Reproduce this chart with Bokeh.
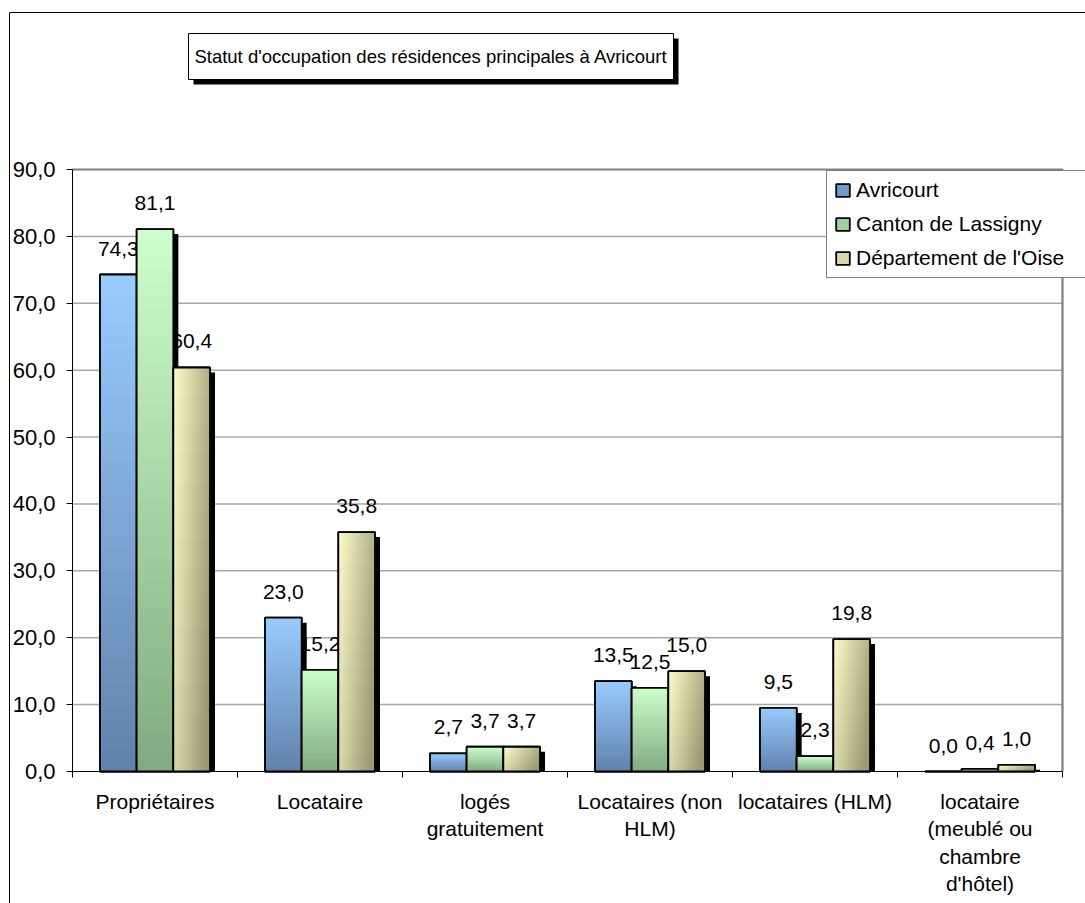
import numpy as np
from bokeh.plotting import figure
from bokeh.models import Range1d, FixedTicker, Legend, LegendItem, ColumnDataSource
from bokeh.core.properties import value
from bokeh.embed import file_html
from bokeh.resources import INLINE

# ---- data -------------------------------------------------------------
title_text = "Statut d'occupation des résidences principales à Avricourt"
categories = [
    "Propriétaires",
    "Locataire",
    "logés\ngratuitement",
    "Locataires (non\nHLM)",
    "locataires (HLM)",
    "locataire\n(meublé ou\nchambre\nd'hôtel)",
]
series_names = ["Avricourt", "Canton de Lassigny", "Département de l'Oise"]
avricourt = [74.3, 23.0, 2.7, 13.5, 9.5, 0.0]
canton_lassigny = [81.1, 15.2, 3.7, 12.5, 2.3, 0.4]
departement_oise = [60.4, 35.8, 3.7, 15.0, 19.8, 1.0]
y_ticks = [0, 10, 20, 30, 40, 50, 60, 70, 80, 90]

series_values = [avricourt, canton_lassigny, departement_oise]

# ---- layout -----------------------------------------------------------
FONT = "Liberation Sans"
W, H = 1085, 903
# plot area in canvas pixels
PA_LEFT, PA_RIGHT, PA_TOP, PA_BOTTOM = 72, 1062, 169, 771
N_CAT = len(categories)
Y_MAX = 90
ppx = (PA_RIGHT - PA_LEFT) / N_CAT          # pixels per category
ppy = (PA_BOTTOM - PA_TOP) / Y_MAX          # pixels per y unit
x_start, x_end = -PA_LEFT / ppx, N_CAT + (W - PA_RIGHT) / ppx
y_start, y_end = -(H - PA_BOTTOM) / ppy, Y_MAX + PA_TOP / ppy


def cx(px):
    """canvas x pixel -> x data coordinate"""
    return x_start + px / ppx


def cy(py):
    """canvas y pixel (from top) -> y data coordinate"""
    return y_end - py / ppy


# gradient end colours (light -> dark) and legend swatch colour per series
grad_top = [(153, 204, 255), (204, 255, 204), (255, 255, 204)]
grad_bot = [(96, 130, 170), (130, 170, 130), (156, 153, 116)]
swatch = ["#6f9bcc", "#9fd19f", "#d9d8a8"]

bar_w = 2.0 / 9.0                      # three bars fill 2/3 of a category
shadow_dx, shadow_dy = 5 / ppx, 5 / ppy


def mix(c0, c1, t):
    t = min(max(t, 0.0), 1.0)
    r, g, b = (int(round(a + (b_ - a) * t)) for a, b_ in zip(c0, c1))
    return "#%02x%02x%02x" % (r, g, b)


p = figure(width=W, height=H, output_backend="svg", toolbar_location=None,
           x_range=Range1d(x_start, x_end), y_range=Range1d(y_start, y_end),
           min_border=0, background_fill_color="white", border_fill_color="white")
p.outline_line_color = None
p.xgrid.visible = False
p.ygrid.visible = False

# y axis, pinned to x = 0
ya = p.yaxis[0]
ya.fixed_location = 0
ya.bounds = (0, Y_MAX)
ya.ticker = FixedTicker(ticks=y_ticks)
ya.major_label_overrides = {v: f"{v:.1f}".replace(".", ",") for v in y_ticks}
ya.axis_line_color = "black"
ya.major_tick_line_color = "black"
ya.major_tick_in = 0
ya.major_tick_out = 6
ya.minor_tick_line_color = None
ya.major_label_standoff = 11
ya.major_label_text_font = FONT
ya.major_label_text_font_size = "22px"
ya.major_label_text_color = "black"

# x axis, pinned to y = 0: labels centred, tick marks on category boundaries
xa = p.xaxis[0]
centers = [i + 0.5 for i in range(N_CAT)]
xa.fixed_location = 0
xa.bounds = (0, N_CAT)
xa.ticker = FixedTicker(ticks=centers, minor_ticks=list(range(N_CAT + 1)))
xa.major_label_overrides = {c: lab for c, lab in zip(centers, categories)}
xa.axis_line_color = "black"
xa.major_tick_line_color = None
xa.major_tick_in = 0
xa.major_tick_out = 0
xa.minor_tick_line_color = "black"
xa.minor_tick_in = 0
xa.minor_tick_out = 6
xa.major_label_standoff = 12
xa.major_label_text_font = FONT
xa.major_label_text_font_size = "21px"
xa.major_label_text_color = "black"

# horizontal grid lines and the grey plot-area border (top and right)
grid_y = [v for v in y_ticks if 0 < v < Y_MAX]
p.segment(x0=[0] * len(grid_y), x1=[N_CAT] * len(grid_y), y0=grid_y, y1=grid_y,
          line_color="#a8a8a8", line_width=1.5)
p.line(x=[0, N_CAT, N_CAT], y=[Y_MAX, Y_MAX, 0], line_color="#808080",
       line_width=2.2)

# ---- value labels (drawn first, bar shadows may overlap them) -------------
lx, ly, lt = [], [], []
for j, vals in enumerate(series_values):
    for i, v in enumerate(vals):
        lx.append(i + 0.5 + (j - 1) * bar_w)
        ly.append(v)
        lt.append(f"{v:.1f}".replace(".", ","))
p.text(x="x", y="y", text="t", source=ColumnDataSource(dict(x=lx, y=ly, t=lt)),
       text_font=value(FONT), text_font_size="21px", text_color="black",
       text_align="center", text_baseline="alphabetic", y_offset=-26)

# ---- bars: shadow, gradient body, outline ---------------------------------
legend_items = []
N_V = 40          # strips for vertical gradients
N_G = 14          # grid cells for the diagonal gradient
for j, vals in enumerate(series_values):
    left = [i + 0.5 + (j - 1.5) * bar_w for i in range(len(vals))]
    right = [l + bar_w for l in left]

    p.quad(left=[l + shadow_dx for l in left], right=[r + shadow_dx for r in right],
           bottom=[0] * len(vals), top=[max(v - shadow_dy, 0) for v in vals],
           fill_color="black", line_color=None)

    base = p.quad(left=left, right=right, bottom=[0] * len(vals), top=vals,
                  fill_color=swatch[j], line_color="black", line_width=1.8)

    sl, sr, sb, st, sc = [], [], [], [], []
    for l, r, v in zip(left, right, vals):
        if v <= 0:
            continue
        if j < 2:
            for k in range(N_V):
                sl.append(l); sr.append(r)
                sb.append(v * k / N_V); st.append(v * (k + 1) / N_V)
                sc.append(mix(grad_top[j], grad_bot[j], 1 - (k + 0.5) / N_V))
        else:
            for a in range(N_G):
                for k in range(N_G):
                    u = (a + 0.5) / N_G
                    d = 1 - (k + 0.5) / N_G
                    sl.append(l + (r - l) * a / N_G)
                    sr.append(l + (r - l) * (a + 1) / N_G)
                    sb.append(v * k / N_G); st.append(v * (k + 1) / N_G)
                    sc.append(mix(grad_top[j], grad_bot[j], 0.78 * u + 0.35 * d))
    p.quad(left="l", right="r", bottom="b", top="t",
           source=ColumnDataSource(dict(l=sl, r=sr, b=sb, t=st, c=sc)),
           fill_color="c", line_color="c", line_width=0.6)

    p.quad(left=left, right=right, bottom=[0] * len(vals), top=vals,
           fill_color=None, line_color="black", line_width=1.8)

    legend_items.append(LegendItem(label=series_names[j], renderers=[base]))

legend = Legend(items=legend_items, location=(826, H - 278),
                border_line_color="black", border_line_width=1,
                background_fill_color="white", background_fill_alpha=1,
                padding=7, spacing=10, margin=0,
                glyph_width=17, glyph_height=16, label_height=24,
                label_standoff=5, label_width=240,
                label_text_font=FONT, label_text_font_size="21px",
                label_text_color="black")
p.add_layout(legend, "center")

# ---- outer chart border and boxed title with drop shadow ------------------
p.line(x=[cx(9), cx(9), cx(W + 20)], y=[cy(H + 20), cy(12), cy(12)],
       line_color="black", line_width=1)
p.quad(left=[cx(193)], right=[cx(678)], top=[cy(38)], bottom=[cy(84)],
       fill_color="black", line_color=None)
p.quad(left=[cx(188)], right=[cx(673)], top=[cy(33)], bottom=[cy(79)],
       fill_color="white", line_color="black", line_width=1)
p.text(x=[cx(430.5)], y=[cy(56)], text=[title_text],
       text_font=value(FONT), text_font_size="18.5px",
       text_color="black", text_align="center", text_baseline="middle")

open("out.html", "w").write(file_html(p, INLINE))
